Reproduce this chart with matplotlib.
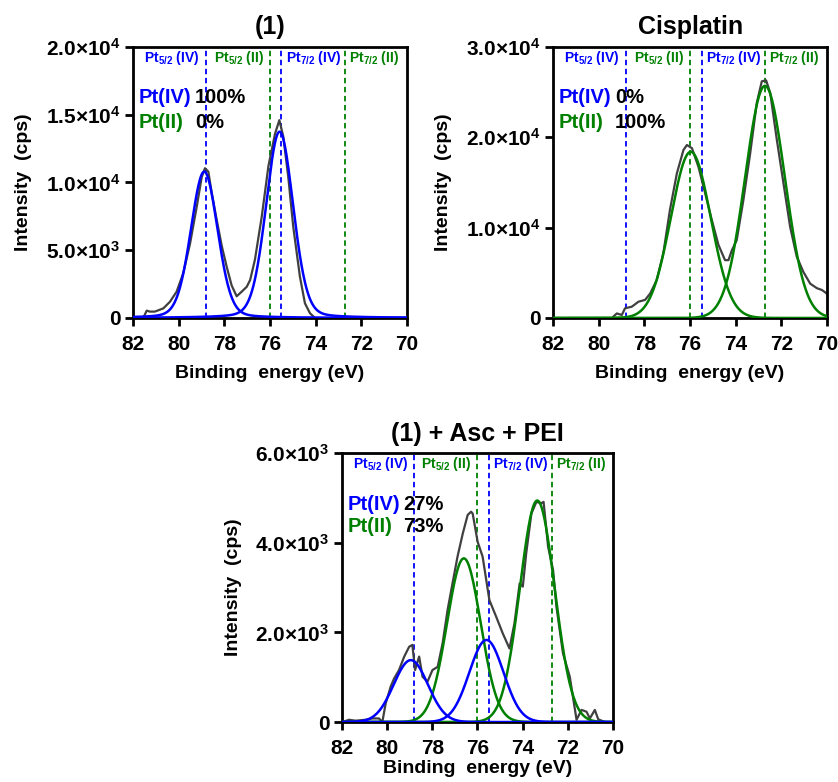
import numpy as np
import matplotlib
matplotlib.use("Agg")
import matplotlib.pyplot as plt
import matplotlib.transforms as mtransforms

plt.rcParams["font.family"] = ["Liberation Sans", "DejaVu Sans"]
plt.rcParams["font.weight"] = "bold"
plt.rcParams["mathtext.fontset"] = "custom"
plt.rcParams["mathtext.rm"] = "Liberation Sans:bold"
plt.rcParams["mathtext.bf"] = "Liberation Sans:bold"
plt.rcParams["mathtext.it"] = "Liberation Sans:bold"

BLUE = "#0000ff"
GREEN = "#008000"
GREY = "#404040"

# reference binding energies (eV)
line_pos = [78.8, 76.0, 75.5, 72.7]
line_col = [BLUE, GREEN, BLUE, GREEN]
peak_labels = [r"Pt$_{5/2}$ (IV)", r"Pt$_{5/2}$ (II)", r"Pt$_{7/2}$ (IV)", r"Pt$_{7/2}$ (II)"]
peak_label_x = [80.3, 77.37, 74.1, 71.43]

# panel (1): measured spectrum
e1 = [81.55, 81.40, 81.26, 81.04, 80.67, 80.38, 80.09, 79.80, 79.50, 79.21, 78.99, 78.85,
      78.70, 78.55, 78.33, 78.11, 77.90, 77.68, 77.46, 77.24, 77.02, 76.87, 76.66, 76.36,
      76.07, 75.78, 75.59, 75.42, 75.20, 74.98, 74.69, 74.47, 74.25, 74.03]
i1 = [0, 540, 470, 470, 710, 1200, 1940, 3300, 5500, 8200, 10400, 11050,
      10800, 9200, 7200, 5300, 3800, 2400, 1600, 1940, 2300, 2800, 4300, 7500,
      11200, 13600, 14600, 13400, 10400, 6700, 3050, 1080, 350, 0]
# panel (1): fitted components (Pt(IV))
fit1_center = [78.88, 75.58]
fit1_height = [10800, 13750]
fit1_fwhm = [1.38, 1.40]
fit1_eta = [0.15, 0.15]

# Cisplatin: measured spectrum
e2 = [79.36, 79.21, 78.99, 78.85, 78.55, 78.26, 77.97, 77.75, 77.46, 77.17, 76.88, 76.58,
      76.29, 76.14, 75.92, 75.63, 75.34, 75.05, 74.76, 74.47, 74.32, 74.17, 73.96, 73.67,
      73.37, 73.08, 72.86, 72.67, 72.49, 72.20, 71.91, 71.62, 71.33, 71.04, 70.74, 70.45,
      70.23, 70.01]
i2 = [150, 500, 330, 1070, 1250, 1800, 2000, 2700, 4200, 7200, 12000, 16000,
      18600, 19150, 18800, 16700, 13800, 10850, 8100, 6400, 6400, 7500, 8600, 13000,
      18200, 23800, 26200, 26300, 24900, 19700, 14900, 10100, 6800, 5100, 3800, 3300,
      3100, 2700]
# Cisplatin: fitted components (Pt(II))
fit2_center = [75.97, 72.72]
fit2_height = [18400, 25700]
fit2_fwhm = [2.05, 2.05]
fit2_eta = [0.0, 0.0]

# (1) + Asc + PEI: measured spectrum
e3 = [81.85, 81.69, 81.39, 80.95, 80.65, 80.36, 80.21, 80.06, 79.84, 79.69, 79.47, 79.24,
      79.02, 78.88, 78.76, 78.58, 78.43, 78.21, 77.99, 77.76, 77.54, 77.32, 77.10, 76.88,
      76.65, 76.43, 76.28, 76.21, 75.99, 75.77, 75.47, 75.17, 74.88, 74.58, 74.36, 74.13,
      73.99, 73.84, 73.61, 73.39, 73.17, 73.07, 72.87, 72.65, 72.50, 72.21, 71.91, 71.61,
      71.39, 71.17, 71.02, 70.80, 70.65, 70.35]
i3 = [20, 50, 30, 50, 80, 80, 0, 420, 790, 970, 1160, 1460,
      1680, 1720, 1160, 1460, 1010, 900, 1160, 1230, 1760, 2500, 3100, 3690,
      4200, 4620, 4690, 4650, 4020, 3690, 2720, 2350, 1980, 1640, 2200, 3090,
      3020, 3760, 4650, 4910, 4880, 4910, 3910, 3390, 2570, 1530, 1010, 50,
      270, 230, 80, 270, 60, 0]
# (1) + Asc + PEI: fitted components
fit3_iv_center = [78.95, 75.6]
fit3_iv_height = [1380, 1830]
fit3_iv_fwhm = [1.78, 1.78]
fit3_ii_center = [76.6, 73.35]
fit3_ii_height = [3650, 4940]
fit3_ii_fwhm = [1.75, 1.81]

energy_grid = np.linspace(82, 70, 600)


def pseudo_voigt(x, c, h, w, eta=0.0):
    g = np.exp(-4 * np.log(2) * (x - c) ** 2 / w ** 2)
    l = 1.0 / (1 + 4 * (x - c) ** 2 / w ** 2)
    return h * ((1 - eta) * g + eta * l)


def style_axes(ax, ymax, yticks, ylabels, title, xlabelpad=8):
    ax.set_xlim(82, 70)
    ax.set_ylim(0, ymax)
    ax.set_xticks([82, 80, 78, 76, 74, 72, 70])
    ax.set_yticks(yticks)
    ax.set_yticklabels(ylabels)
    for s in ax.spines.values():
        s.set_linewidth(2)
    ax.tick_params(direction="out", length=6, width=2, labelsize=15)
    ax.tick_params(axis="x", pad=6)
    ax.tick_params(axis="y", pad=3)
    ax.set_xlabel("Binding  energy (eV)", fontsize=14, fontweight="bold", labelpad=xlabelpad)
    ax.set_ylabel("Intensity  (cps)", fontsize=14, fontweight="bold")
    ax.yaxis.set_label_coords(-0.37, 0.5)
    ax.set_title(title, fontsize=18, fontweight="bold", pad=9)
    for x, c in zip(line_pos, line_col):
        ax.axvline(x, color=c, lw=1.3, ls=(0, (3, 2)), zorder=1)
    trans = mtransforms.blended_transform_factory(ax.transData, ax.transAxes)
    for x, lab, c in zip(peak_label_x, peak_labels, line_col):
        ax.text(x, 0.958, lab, transform=trans, color=c, fontsize=10,
                fontweight="bold", ha="center", va="center")


def ratio_text(ax, iv, ii, y1, y2):
    ax.text(0.02, y1, "Pt(IV)", color=BLUE, fontsize=14.5, fontweight="bold",
            transform=ax.transAxes, va="center")
    ax.text(0.226, y1, iv, color="black", fontsize=14.5, fontweight="bold",
            transform=ax.transAxes, va="center")
    ax.text(0.02, y2, "Pt(II)", color=GREEN, fontsize=14.5, fontweight="bold",
            transform=ax.transAxes, va="center")
    ax.text(0.226, y2, ii, color="black", fontsize=14.5, fontweight="bold",
            transform=ax.transAxes, va="center")


fig = plt.figure(figsize=(8.38, 7.82), dpi=100)

# panel (1)
ax1 = fig.add_axes([0.1587, 0.5934, 0.327, 0.3465])
ax1.plot(e1, i1, color=GREY, lw=1.6, zorder=2)
for c, h, w, eta in zip(fit1_center, fit1_height, fit1_fwhm, fit1_eta):
    ax1.plot(energy_grid, pseudo_voigt(energy_grid, c, h, w, eta), color=BLUE, lw=1.8, zorder=3)
style_axes(ax1, 20000, [0, 5000, 10000, 15000, 20000],
           ["0", r"$5.0{\times}10^3$", r"$1.0{\times}10^4$", r"$1.5{\times}10^4$", r"$2.0{\times}10^4$"],
           "(1)")
ratio_text(ax1, "100%", "0%", 0.812, 0.723)

# Cisplatin
ax2 = fig.add_axes([0.660, 0.5934, 0.327, 0.3465])
ax2.plot(e2, i2, color=GREY, lw=1.6, zorder=2)
for c, h, w, eta in zip(fit2_center, fit2_height, fit2_fwhm, fit2_eta):
    ax2.plot(energy_grid, pseudo_voigt(energy_grid, c, h, w, eta), color=GREEN, lw=1.8, zorder=3)
style_axes(ax2, 30000, [0, 10000, 20000, 30000],
           ["0", r"$1.0{\times}10^4$", r"$2.0{\times}10^4$", r"$3.0{\times}10^4$"],
           "Cisplatin")
ratio_text(ax2, "0%", "100%", 0.812, 0.723)

# (1) + Asc + PEI
ax3 = fig.add_axes([0.408, 0.0767, 0.3234, 0.344])
ax3.plot(e3, i3, color=GREY, lw=1.6, zorder=2)
for c, h, w in zip(fit3_ii_center, fit3_ii_height, fit3_ii_fwhm):
    ax3.plot(energy_grid, pseudo_voigt(energy_grid, c, h, w), color=GREEN, lw=1.8, zorder=3)
for c, h, w in zip(fit3_iv_center, fit3_iv_height, fit3_iv_fwhm):
    ax3.plot(energy_grid, pseudo_voigt(energy_grid, c, h, w), color=BLUE, lw=1.8, zorder=4)
style_axes(ax3, 6000, [0, 2000, 4000, 6000],
           ["0", r"$2.0{\times}10^3$", r"$4.0{\times}10^3$", r"$6.0{\times}10^3$"],
           "(1) + Asc + PEI", xlabelpad=2)
ratio_text(ax3, "27%", "73%", 0.807, 0.725)

fig.savefig("out.png", dpi=100)
